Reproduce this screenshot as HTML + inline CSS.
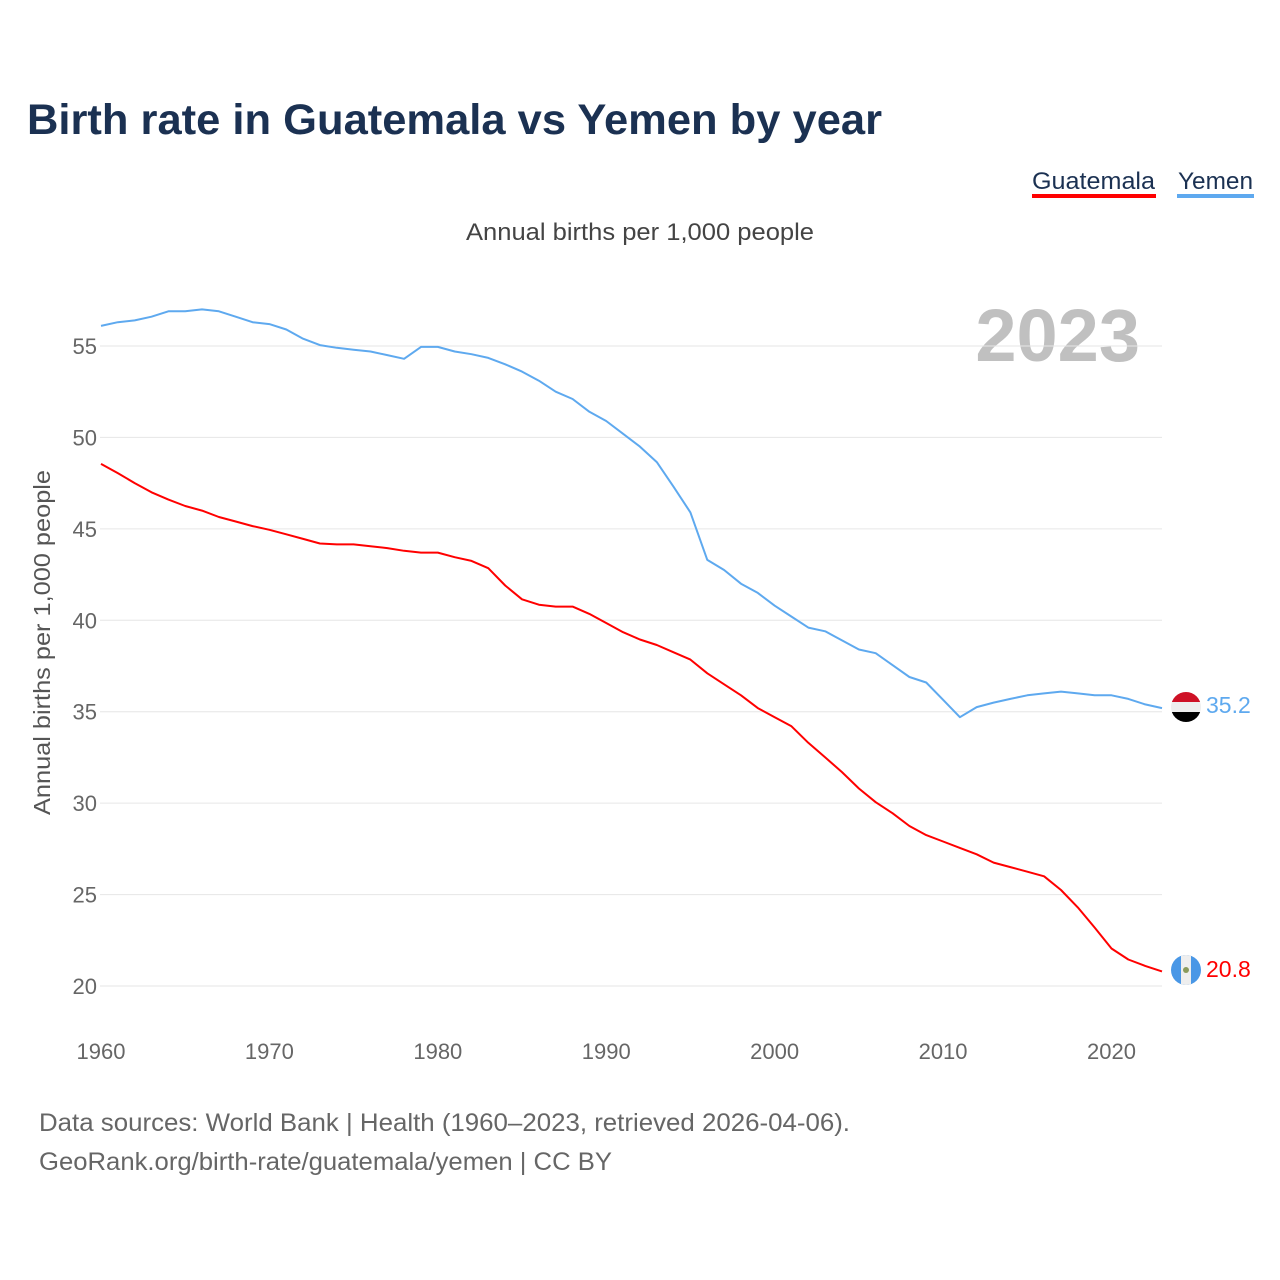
<!DOCTYPE html>
<html><head><meta charset="utf-8"><style>
html,body{margin:0;padding:0;background:#fff;width:1280px;height:1280px;overflow:hidden;font-family:"Liberation Sans",sans-serif}
</style></head><body>
<svg id="chart" width="1280" height="1280" xmlns="http://www.w3.org/2000/svg" font-family="Liberation Sans, sans-serif">
<text x="27" y="134" font-size="43" font-weight="bold" fill="#1b3152" textLength="855" lengthAdjust="spacingAndGlyphs">Birth rate in Guatemala vs Yemen by year</text>
<g>
<text x="1032" y="189" font-size="24" fill="#1b3152" textLength="123" lengthAdjust="spacingAndGlyphs">Guatemala</text>
<rect x="1032" y="194" width="124" height="4" fill="#ff0000"/>
</g>
<g>
<text x="1178" y="189" font-size="24" fill="#1b3152" textLength="75" lengthAdjust="spacingAndGlyphs">Yemen</text>
<rect x="1177" y="194" width="77" height="4" fill="#5ea9ef"/>
</g>
<text x="466" y="240" font-size="24" fill="#444" textLength="348" lengthAdjust="spacingAndGlyphs">Annual births per 1,000 people</text>
<text x="1140" y="361" font-size="74" font-weight="bold" fill="#c0c0c0" text-anchor="end">2023</text>
<text transform="translate(50,815) rotate(-90)" font-size="23" fill="#555" textLength="345" lengthAdjust="spacingAndGlyphs">Annual births per 1,000 people</text>
<g id="grid"></g><g id="xt"></g><g id="lines"></g>
<g>
<clipPath id="cy"><circle cx="1186" cy="707" r="15"/></clipPath>
<g clip-path="url(#cy)"><rect x="1171" y="692" width="30" height="10" fill="#ce1126"/><rect x="1171" y="702" width="30" height="10" fill="#eee"/><rect x="1171" y="712" width="30" height="10" fill="#000"/></g>
</g>
<g>
<clipPath id="cg"><circle cx="1186" cy="970" r="15"/></clipPath>
<g clip-path="url(#cg)"><rect x="1171" y="955" width="30" height="30" fill="#4997e6"/><rect x="1181" y="955" width="10" height="30" fill="#eee"/><circle cx="1186" cy="970" r="3" fill="#8a9a5b"/></g>
</g>
<text x="1206" y="713" font-size="23" fill="#5ea9ef">35.2</text>
<text x="1206" y="977" font-size="23" fill="#ff0000">20.8</text>
<text x="39" y="1131" font-size="25" fill="#666" textLength="811" lengthAdjust="spacingAndGlyphs">Data sources: World Bank | Health (1960–2023, retrieved 2026-04-06).</text>
<text x="39" y="1170" font-size="25" fill="#666" textLength="573" lengthAdjust="spacingAndGlyphs">GeoRank.org/birth-rate/guatemala/yemen | CC BY</text>
</svg>
<script>
const years=[];for(let y=1960;y<=2023;y++)years.push(y);
const yemen=[56.1,56.3,56.4,56.6,56.9,56.9,57.0,56.9,56.6,56.3,56.2,55.9,55.4,55.05,54.9,54.8,54.7,54.5,54.3,54.95,54.95,54.7,54.55,54.35,54.0,53.6,53.1,52.5,52.1,51.4,50.9,50.2,49.5,48.65,47.3,45.9,43.3,42.75,42.0,41.5,40.8,40.2,39.6,39.4,38.9,38.4,38.2,37.55,36.9,36.6,35.65,34.7,35.25,35.5,35.7,35.9,36.0,36.1,36.0,35.9,35.9,35.7,35.4,35.2];
const guatemala=[48.55,48.05,47.5,47.0,46.6,46.25,46.0,45.65,45.4,45.15,44.95,44.7,44.45,44.2,44.15,44.15,44.05,43.95,43.8,43.7,43.7,43.45,43.25,42.85,41.9,41.15,40.85,40.75,40.75,40.35,39.85,39.35,38.95,38.65,38.25,37.85,37.1,36.5,35.9,35.2,34.7,34.2,33.3,32.5,31.7,30.8,30.05,29.45,28.75,28.25,27.9,27.55,27.2,26.75,26.5,26.25,26.0,25.25,24.3,23.2,22.05,21.45,21.1,20.8];
const yTicks=[20,25,30,35,40,45,50,55];
const xTicks=[1960,1970,1980,1990,2000,2010,2020];
const NS='http://www.w3.org/2000/svg';
const xs=v=>101+(v-1960)*(1162-101)/63;
const ys=v=>986-(v-20)*(640/35);
const grid=document.getElementById('grid');
yTicks.forEach(t=>{
 const l=document.createElementNS(NS,'line');
 l.setAttribute('x1',100);l.setAttribute('x2',1162);l.setAttribute('y1',ys(t));l.setAttribute('y2',ys(t));
 l.setAttribute('stroke','#e6e6e6');l.setAttribute('stroke-width',1);
 
 
 grid.appendChild(l);
 const tx=document.createElementNS(NS,'text');
 tx.setAttribute('x',97);tx.setAttribute('y',ys(t)+8);tx.setAttribute('text-anchor','end');
 tx.setAttribute('font-size',22);tx.setAttribute('fill','#666');tx.textContent=t;
 
 
 grid.appendChild(tx);
});
const xt=document.getElementById('xt');
xTicks.forEach(t=>{
 const tx=document.createElementNS(NS,'text');
 tx.setAttribute('x',xs(t));tx.setAttribute('y',1059);tx.setAttribute('text-anchor','middle');
 tx.setAttribute('font-size',22);tx.setAttribute('fill','#666');tx.textContent=t;
 
 
 xt.appendChild(tx);
});
const lines=document.getElementById('lines');
function draw(vals,color,name){
 const p=document.createElementNS(NS,'path');
 p.setAttribute('d',vals.map((v,i)=>(i?'L':'M')+xs(years[i]).toFixed(1)+','+ys(v).toFixed(1)).join(''));
 p.setAttribute('fill','none');p.setAttribute('stroke',color);p.setAttribute('stroke-width',2);p.setAttribute('stroke-linejoin','round');
 
 
 lines.appendChild(p);
}
draw(yemen,'#5ea9ef','yemen-line');
draw(guatemala,'#ff0000','guatemala-line');
</script>
</body></html>
